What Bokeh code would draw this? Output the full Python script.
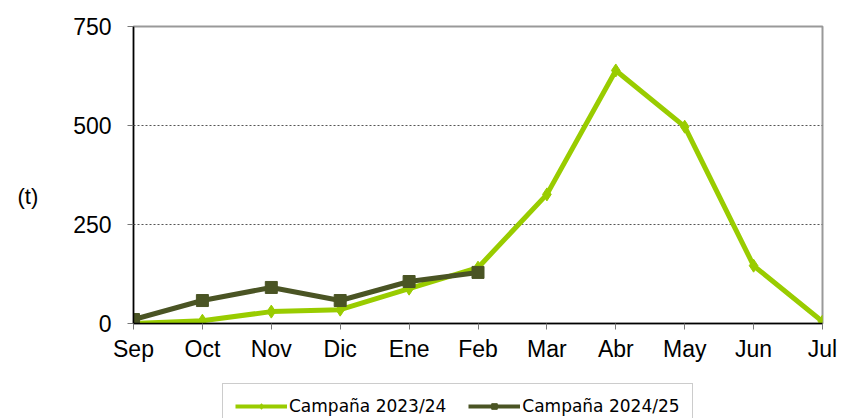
from bokeh.plotting import figure
from bokeh.layouts import row, column
from bokeh.models import Range1d, FixedTicker, Legend, LegendItem, Label
from bokeh.embed import file_html
from bokeh.resources import INLINE

months = ["Sep", "Oct", "Nov", "Dic", "Ene", "Feb", "Mar", "Abr", "May", "Jun", "Jul"]
camp_2023_24 = [0, 7, 30, 35, 88, 141, 326, 639, 497, 146, 5]
camp_2024_25 = [10, 58, 91, 58, 106, 129]
y_ticks = [0, 250, 500, 750]
series_names = ["Campaña 2023/24", "Campaña 2024/25"]

c1 = "#99CC00"
c2 = "#4A5424"

x1 = list(range(len(camp_2023_24)))
x2 = list(range(len(camp_2024_25)))

H_TOP = 364

# left strip holding the "(t)" unit label
pl = figure(width=60, height=H_TOP, output_backend="svg", toolbar_location=None,
            x_range=Range1d(0, 1), y_range=Range1d(0, 1), min_border=0)
pl.axis.visible = False
pl.grid.visible = False
pl.outline_line_color = None
pl.add_layout(Label(x=17, y=127, x_units="screen", y_units="screen", text="(t)",
                    text_font="Liberation Sans", text_font_size="22px",
                    text_color="black", text_baseline="middle"))

p = figure(width=781, height=H_TOP, output_backend="svg", toolbar_location=None,
           x_range=Range1d(0, len(months) - 1), y_range=Range1d(0, 750),
           min_border_left=73, min_border_right=19, min_border_top=26, min_border_bottom=41)
p.outline_line_color = "#999999"
p.outline_line_width = 2

p.xgrid.grid_line_color = None
p.ygrid.grid_line_color = "#555555"
p.ygrid.grid_line_dash = "2 2"
p.ygrid.grid_line_width = 1

p.xaxis.ticker = FixedTicker(ticks=x1)
p.xaxis.major_label_overrides = {i: m for i, m in enumerate(months)}
p.yaxis.ticker = FixedTicker(ticks=y_ticks)
for ax in (p.xaxis[0], p.yaxis[0]):
    ax.axis_line_color = "black"
    ax.axis_line_width = 1.5
    ax.major_tick_line_color = "#777777"
    ax.major_tick_in = 0
    ax.major_tick_out = 6
    ax.minor_tick_line_color = None
    ax.major_label_text_font = "Liberation Sans"
    ax.major_label_text_font_size = "23px"
    ax.major_label_text_color = "black"
p.yaxis.major_label_standoff = 16
p.xaxis.major_label_standoff = 6

p.line(x1, camp_2023_24, line_color=c1, line_width=5)
p.scatter(x1, camp_2023_24, marker="diamond", size=13, color=c1)
p.line(x2, camp_2024_25, line_color=c2, line_width=5)
p.scatter(x2, camp_2024_25, marker="square", size=12, color=c2)

# bottom strip holding the legend
p2 = figure(width=841, height=418 - H_TOP, output_backend="svg", toolbar_location=None,
            x_range=Range1d(0, 1), y_range=Range1d(0, 1), min_border=0)
p2.axis.visible = False
p2.grid.visible = False
p2.outline_line_color = None
d1 = p2.line([-10, -9], [-10, -9], line_color=c1, line_width=4)
e1 = p2.scatter([-10], [-10], marker="diamond", size=11, color=c1)
d2 = p2.line([-10, -9], [-10, -9], line_color=c2, line_width=4)
e2 = p2.scatter([-10], [-10], marker="square", size=10, color=c2)

legend = Legend(items=[LegendItem(label=series_names[0], renderers=[d1, e1]),
                       LegendItem(label=series_names[1], renderers=[d2, e2])],
                orientation="horizontal", location=(222, -11),
                label_text_font="DejaVu Sans", label_text_font_size="17px",
                label_text_color="black",
                glyph_width=52, glyph_height=14, spacing=22, padding=12,
                margin=0, label_standoff=2,
                border_line_color="#999999", border_line_width=1.5,
                background_fill_alpha=1)
p2.add_layout(legend, "center")

layout = column(row(pl, p), p2)
open("out.html", "w").write(file_html(layout, INLINE))
